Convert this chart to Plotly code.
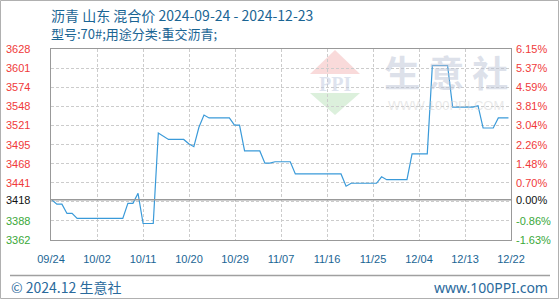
import plotly.graph_objects as go
import pandas as pd
import numpy as np

# ---------------- data ----------------
dates = ["2024-09-24", "2024-09-25", "2024-09-26", "2024-09-27", "2024-09-28", "2024-09-29",
         "2024-10-08", "2024-10-09", "2024-10-10", "2024-10-11", "2024-10-12", "2024-10-14",
         "2024-10-15", "2024-10-16", "2024-10-17", "2024-10-20", "2024-10-21", "2024-10-22",
         "2024-10-23", "2024-10-24", "2024-10-25", "2024-10-29", "2024-10-30", "2024-10-31",
         "2024-11-01", "2024-11-04", "2024-11-05", "2024-11-06", "2024-11-07", "2024-11-10",
         "2024-11-11", "2024-11-20", "2024-11-21", "2024-11-22", "2024-11-26", "2024-11-27",
         "2024-11-28", "2024-11-29", "2024-12-03", "2024-12-04", "2024-12-07", "2024-12-08",
         "2024-12-11", "2024-12-12", "2024-12-16", "2024-12-17", "2024-12-18", "2024-12-20",
         "2024-12-21", "2024-12-23"]
prices = [3418, 3412, 3412, 3399, 3399, 3392,
          3392, 3413, 3413, 3427, 3385, 3385,
          3511, 3506, 3502, 3502, 3496, 3492,
          3519, 3536, 3532, 3532, 3522, 3522,
          3486, 3486, 3469, 3469, 3471, 3471,
          3454, 3454, 3437, 3441, 3441, 3441,
          3450, 3446, 3446, 3482, 3482, 3605,
          3605, 3547, 3547, 3549, 3518, 3518,
          3532, 3532]

base_price = 3418
y_min, y_max = 3362, 3628
left_labels = ["3362", "3388", "3418", "3441", "3468", "3495", "3521", "3548", "3574", "3601", "3628"]
right_labels = ["-1.63%", "-0.86%", "0.00%", "0.70%", "1.48%", "2.26%", "3.04%", "3.81%", "4.59%", "5.37%", "6.15%"]
x_labels = ["09/24", "10/02", "10/11", "10/20", "10/29", "11/07", "11/16", "11/25", "12/04", "12/13", "12/22"]

title_1 = "沥青 山东 混合价 2024-09-24 - 2024-12-23"
title_2 = "型号:70#;用途分类:重交沥青;"
footer_left = "© 2024.12 生意社"
footer_right = "www.100PPI.com"

# ---------------- layout constants ----------------
W, H = 560, 300
ML, MR, MT, MB = 51, 49, 49, 60
PW, PH = W - ML - MR, H - MT - MB


def px_x(p):
    return (p - ML) / PW


def px_y(p):
    return (MT + PH - p) / PH


x_start = pd.Timestamp("2024-09-24") - pd.Timedelta(hours=3.6)
x_end = pd.Timestamp("2024-12-23") + pd.Timedelta(hours=12)
x_ticks = pd.date_range(x_start, x_end, periods=len(x_labels))
y_grid = np.linspace(y_min, y_max, len(left_labels))
label_y = y_grid.copy()
label_y[2] = base_price

RED = "#f03a3a"
GREEN = "#3aa83a"
BLUE_TXT = "#1a6594"

fig = go.Figure()
fig.add_trace(go.Scatter(
    x=pd.to_datetime(dates), y=prices, mode="lines",
    line=dict(color="#3a9ad9", width=1.2), hoverinfo="skip", showlegend=False))

fig.update_layout(
    width=W, height=H,
    margin=dict(l=ML, r=MR, t=MT, b=MB, pad=0),
    paper_bgcolor="white", plot_bgcolor="white",
    font=dict(family="Liberation Sans, Arial, sans-serif", size=11),
    showlegend=False,
)
fig.update_xaxes(
    type="date", range=[x_start, x_end],
    tickvals=x_ticks, ticktext=x_labels,
    tickfont=dict(color=BLUE_TXT, size=11, family="Liberation Sans, Arial"),
    ticks="", ticklabelstandoff=9,
    showgrid=True, gridcolor="#cccccc", gridwidth=1, griddash="3px,2px",
    showline=True, linecolor="#999999", linewidth=1, mirror=True, zeroline=False,
)
fig.update_yaxes(
    range=[y_min, y_max], tickvals=y_grid, showticklabels=False, ticks="",
    showgrid=True, gridcolor="#cccccc", gridwidth=1, griddash="3px,2px",
    showline=True, linecolor="#999999", linewidth=1, mirror=True, zeroline=False,
)

shapes = []
# watermark logo
shapes.append(dict(type="path", xref="paper", yref="paper", layer="below",
                   path=f"M {px_x(310)},{px_y(74)} L {px_x(360)},{px_y(74)} L {px_x(335)},{px_y(50)} Z",
                   fillcolor="#f9dada", line=dict(width=0)))
shapes.append(dict(type="path", xref="paper", yref="paper", layer="below",
                   path=f"M {px_x(310)},{px_y(93)} L {px_x(360)},{px_y(93)} L {px_x(335)},{px_y(115)} Z",
                   fillcolor="#dcf0dc", line=dict(width=0)))
# baseline
shapes.append(dict(type="line", xref="paper", yref="y", x0=0, x1=1, y0=base_price, y1=base_price,
                   line=dict(color="#999999", width=1.5), layer="above"))
# footer separator
shapes.append(dict(type="line", xref="paper", yref="paper", x0=px_x(10), x1=px_x(550),
                   y0=px_y(275.5), y1=px_y(275.5), line=dict(color="#a0a0a0", width=1.5)))
# outer border
shapes.append(dict(type="rect", xref="paper", yref="paper", x0=px_x(0.5), x1=px_x(558.5),
                   y0=px_y(298.5), y1=px_y(0.5), line=dict(color="#b0b0b0", width=1)))
fig.update_layout(shapes=shapes)

ann = []
for i, (yv, lt, rt) in enumerate(zip(label_y, left_labels, right_labels)):
    if i < 2:
        col = GREEN
    elif i == 2:
        col = "#111111"
    else:
        col = RED
    ann.append(dict(xref="paper", yref="y", x=0, y=yv, text=lt, showarrow=False,
                    xanchor="left", yanchor="middle", xshift=4 - ML,
                    font=dict(color=col, size=11, family="Liberation Sans, Arial")))
    ann.append(dict(xref="paper", yref="y", x=1, y=yv, text=rt, showarrow=False,
                    xanchor="left", yanchor="middle", xshift=3,
                    font=dict(color=col, size=11, family="Liberation Sans, Arial")))

# titles (two lines in one text block)
ann.append(dict(xref="paper", yref="paper", x=px_x(49), y=px_y(24),
                text=title_1 + "<br><span style='font-size:13px'>" + title_2 + "</span>",
                showarrow=False, xanchor="left", yanchor="middle", align="left",
                font=dict(color=BLUE_TXT, size=14, family="Noto Sans CJK SC")))
# footer
ann.append(dict(xref="paper", yref="paper", x=px_x(9), y=px_y(287), text=footer_left, showarrow=False,
                xanchor="left", yanchor="middle",
                font=dict(color="#2a6a9c", size=14, family="Noto Sans CJK SC")))
ann.append(dict(xref="paper", yref="paper", x=px_x(550), y=px_y(287), text=footer_right, showarrow=False,
                xanchor="right", yanchor="middle",
                font=dict(color="#2a6a9c", size=14, family="Noto Sans")))
# watermark texts
ann.append(dict(xref="paper", yref="paper", x=px_x(335), y=px_y(84), text="<b>PPI</b>", showarrow=False,
                xanchor="center", yanchor="middle",
                font=dict(color="rgba(190,200,222,0.5)", size=20, family="Liberation Serif")))
ann.append(dict(xref="paper", yref="paper", x=px_x(446), y=px_y(71), text="生 意 社", showarrow=False,
                xanchor="center", yanchor="middle",
                font=dict(color="rgba(187,195,213,0.5)", size=36, family="Noto Sans CJK SC", weight=700)))
ann.append(dict(xref="paper", yref="paper", x=px_x(446), y=px_y(105), text="WWW.100PPI.COM", showarrow=False,
                xanchor="center", yanchor="middle",
                font=dict(color="rgba(210,210,210,0.5)", size=13, family="Liberation Sans")))
fig.update_layout(annotations=ann)

fig.write_html("out.html")
